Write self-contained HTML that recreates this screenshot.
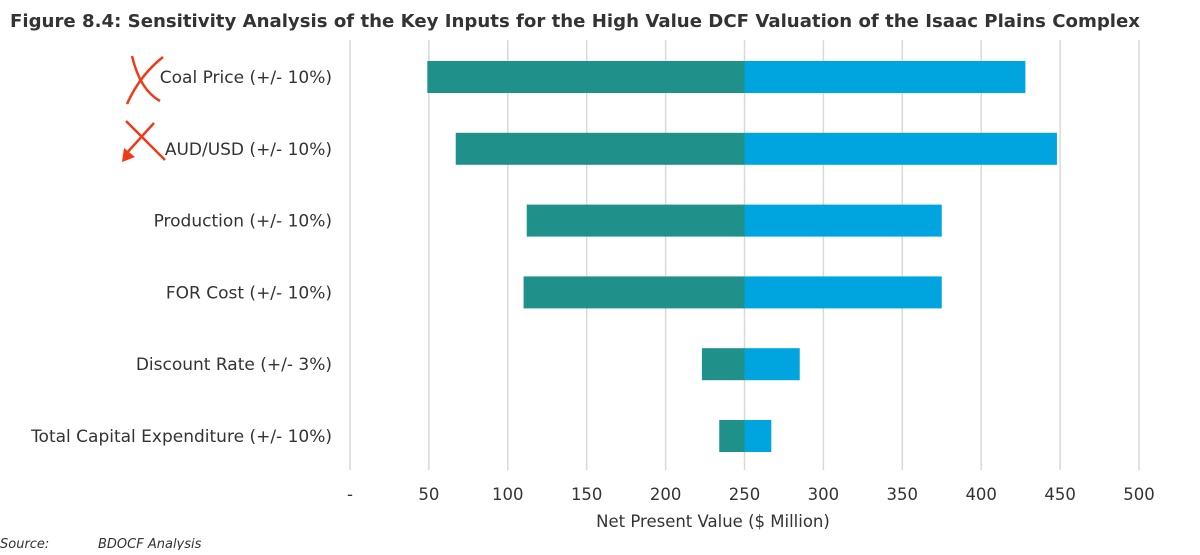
<!DOCTYPE html>
<html><head><meta charset="utf-8"><style>
body{margin:0;background:#fff;}
svg text{font-family:"DejaVu Sans","Liberation Sans",sans-serif;fill:#333;}
</style></head><body>
<svg width="1200" height="550" viewBox="0 0 1200 550">
<text x="10" y="27" font-size="18" font-weight="bold" fill="#333" textLength="1130" lengthAdjust="spacingAndGlyphs">Figure 8.4: Sensitivity Analysis of the Key Inputs for the High Value DCF Valuation of the Isaac Plains Complex</text>
<g id="grid"></g><g id="bars"></g><g id="labels"></g><g id="ticks"></g>
<text x="713" y="527" font-size="16.5" text-anchor="middle">Net Present Value ($ Million)</text>
<text x="0" y="548" font-size="13" font-style="italic">Source:</text>
<text x="98" y="548" font-size="13" font-style="italic">BDOCF Analysis</text>
<g stroke="#f03a17" stroke-width="2.5" fill="none">
<path d="M163 57 Q140 75 127 104"/><path d="M132 56 Q140 90 160 101"/>
<path d="M126 121 L165 160"/><path d="M154 123 L125 155"/>
</g>
<polygon points="122,162 124,148 135,157" fill="#f03a17"/>
</svg>
<script>
const categories=["Coal Price (+/- 10%)","AUD/USD (+/- 10%)","Production (+/- 10%)","FOR Cost (+/- 10%)","Discount Rate (+/- 3%)","Total Capital Expenditure (+/- 10%)"];
const lowValues=[49,67,112,110,223,234];
const highValues=[428,448,375,375,285,267];
const baseValue=250;
const tickValues=[0,50,100,150,200,250,300,350,400,450,500];
const tickLabels=["-","50","100","150","200","250","300","350","400","450","500"];
const NS="http://www.w3.org/2000/svg";
const x=v=>350+v*(1139-350)/500;
const rowY=i=>77+i*71.8;
function mk(tag,attrs,parent){const e=document.createElementNS(NS,tag);for(const k in attrs)e.setAttribute(k,attrs[k]);document.getElementById(parent).appendChild(e);return e;}
tickValues.forEach((t,i)=>{
  const l=mk('line',{x1:x(t),x2:x(t),y1:40,y2:470,stroke:'#d9d9d9','stroke-width':1.5},'grid');
  
  
  const tx=mk('text',{x:x(t),y:500,'font-size':16.5,'text-anchor':'middle'},'ticks');
  tx.textContent=tickLabels[i];
  
  
});
categories.forEach((c,i)=>{
  const y=rowY(i);
  const b1=mk('rect',{x:x(lowValues[i]),y:y-16,width:x(baseValue)-x(lowValues[i]),height:32,fill:'#1f918a'},'bars');
  
  
  const b2=mk('rect',{x:x(baseValue),y:y-16,width:x(highValues[i])-x(baseValue),height:32,fill:'#00a5df'},'bars');
  
  
  const t=mk('text',{x:332,y:y+6,'font-size':17,'text-anchor':'end'},'labels');
  t.textContent=c;
  
  
});
</script>
</body></html>
